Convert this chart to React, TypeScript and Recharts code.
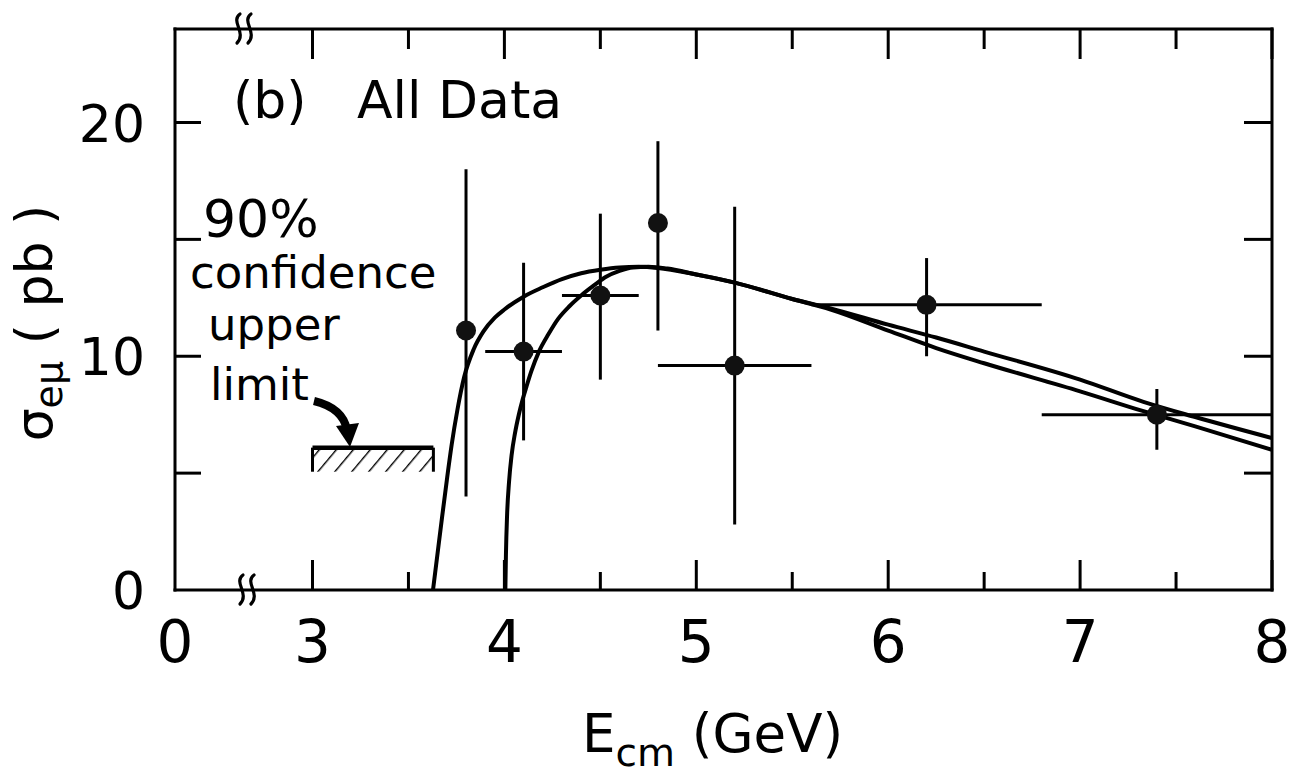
import {
  ComposedChart,
  Line,
  Scatter,
  ErrorBar,
  XAxis,
  YAxis,
  ReferenceArea,
  ReferenceLine,
} from "recharts";

const FONT = "'DejaVu Sans', Arial, sans-serif";

// the energy axis is broken between 0 and 3 GeV; "0" sits at this position
const X_ZERO = 2.2835;

// measured cross sections
const energies = [3.8, 4.1, 4.5, 4.8, 5.2, 6.2, 7.4];
const sigma = [11.1, 10.2, 12.6, 15.7, 9.6, 12.2, 7.5];
const sigmaLow = [4.0, 6.4, 9.0, 11.1, 2.8, 10.0, 6.0];
const sigmaHigh = [18.0, 14.0, 16.1, 19.2, 16.4, 14.2, 8.6];
const binLow = [3.8, 3.9, 4.3, 4.8, 4.8, 5.6, 6.8];
const binHigh = [3.8, 4.3, 4.7, 4.8, 5.6, 6.8, 8.0];

// theory curve, threshold ~3.6 GeV
const curveAE = [3.628, 3.65, 3.675, 3.7, 3.725, 3.755, 3.79, 3.84, 3.89, 3.95, 4.0, 4.1, 4.2, 4.3, 4.4, 4.5, 4.6, 4.7, 4.8, 5.0, 5.2, 5.5, 5.7, 6.0, 6.25, 6.5, 7.0, 7.33, 7.6, 8.0];
const curveAS = [0, 1.45, 3.1, 4.7, 6.2, 7.7, 9.1, 10.3, 11.05, 11.65, 12.0, 12.55, 12.95, 13.3, 13.55, 13.7, 13.8, 13.83, 13.78, 13.5, 13.15, 12.45, 12.0, 11.1, 10.35, 9.7, 8.5, 7.65, 7.0, 6.0];

// theory curve, threshold ~4.0 GeV
const curveBE = [4.005, 4.008, 4.014, 4.024, 4.038, 4.055, 4.075, 4.095, 4.115, 4.14, 4.18, 4.23, 4.28, 4.34, 4.4, 4.47, 4.53, 4.6, 4.67, 4.75, 4.85, 5.0, 5.2, 5.5, 5.7, 6.0, 6.25, 6.5, 7.0, 7.33, 7.6, 8.0];
const curveBS = [0, 1.5, 3.2, 4.6, 5.8, 6.7, 7.5, 8.15, 8.7, 9.35, 10.2, 10.95, 11.6, 12.15, 12.6, 13.05, 13.4, 13.65, 13.8, 13.83, 13.75, 13.5, 13.15, 12.45, 12.05, 11.35, 10.8, 10.2, 9.0, 8.05, 7.4, 6.5];

// 90% CL upper limit box
const limitE = [3.0, 3.63];
const limitS = [5.06, 6.09];

const xTicks = [X_ZERO, 3, 3.5, 4, 4.5, 5, 5.5, 6, 6.5, 7, 7.5, 8];
const yTicks = [0, 5, 10, 15, 20];
const yLabels = [0, 10, 20];

const points = energies.map((e, i) => ({
  e,
  s: sigma[i],
  ex: [e - binLow[i], binHigh[i] - e],
  ey: [sigma[i] - sigmaLow[i], sigmaHigh[i] - sigma[i]],
}));
const curveA = curveAE.map((e, i) => ({ e, s: curveAS[i] }));
const curveB = curveBE.map((e, i) => ({ e, s: curveBS[i] }));

const isZero = (v: number) => Math.abs(v - X_ZERO) < 1e-6;

function BottomTick(props: any) {
  const { x, y, payload } = props;
  const v = payload.value;
  const major = isZero(v) || Number.isInteger(v);
  return (
    <g>
      {!isZero(v) && (
        <line x1={x} x2={x} y1={y} y2={y - (major ? 30 : 18)} stroke="#000" strokeWidth={3} />
      )}
      {major && (
        <text x={x} y={y + 72} textAnchor="middle" fontSize={58} fontFamily={FONT} fill="#000">
          {isZero(v) ? "0" : v}
        </text>
      )}
    </g>
  );
}

function TopTick(props: any) {
  const { x, y, payload } = props;
  const v = payload.value;
  if (isZero(v)) return <g />;
  const major = Number.isInteger(v);
  return <line x1={x} x2={x} y1={y} y2={y + (major ? 30 : 20)} stroke="#000" strokeWidth={3} />;
}

function LeftTick(props: any) {
  const { x, y, payload } = props;
  const v = payload.value;
  return (
    <g>
      {v !== 0 && <line x1={x} x2={x + 26} y1={y} y2={y} stroke="#000" strokeWidth={3} />}
      {yLabels.includes(v) && (
        <text x={x - 30} y={y + 19} textAnchor="end" fontSize={52} fontFamily={FONT} fill="#000">
          {v}
        </text>
      )}
    </g>
  );
}

function RightTick(props: any) {
  const { x, y, payload } = props;
  if (payload.value === 0) return <g />;
  return <line x1={x} x2={x - 28} y1={y} y2={y} stroke="#000" strokeWidth={3} />;
}

function Dot(props: any) {
  const { cx, cy } = props;
  return <circle cx={cx} cy={cy} r={10} fill="#111" />;
}

// two squiggles marking the axis break
function BreakMark({ x, y }: { x: number; y: number }) {
  const s = (cx: number) =>
    `M ${cx + 1} ${y - 15} C ${cx - 9} ${y - 8}, ${cx + 8} ${y + 4}, ${cx - 2} ${y + 14}`;
  return (
    <g fill="none" stroke="#000" strokeWidth={3.2} strokeLinecap="round">
      <path d={s(x - 5)} />
      <path d={s(x + 6)} />
    </g>
  );
}

const axisLine = { stroke: "#000", strokeWidth: 3, strokeLinecap: "square" as const };

export default function App() {
  return (
    <div style={{ position: "relative", width: 1304, height: 783, background: "#fff" }}>
      <style>{`body{margin:0}`}</style>
      <ComposedChart width={1304} height={783} margin={{ top: 28, right: 31, left: 85, bottom: 93 }}>
        <defs>
          <pattern id="hatch" patternUnits="userSpaceOnUse" width={13} height={13} patternTransform="rotate(40)">
            <line x1={0} y1={0} x2={0} y2={13} stroke="#000" strokeWidth={2.8} />
          </pattern>
        </defs>
        <XAxis
          type="number"
          dataKey="e"
          domain={[X_ZERO, 8]}
          ticks={xTicks}
          interval={0}
          allowDataOverflow
          height={100}
          tickSize={0}
          tickMargin={0}
          axisLine={axisLine}
          tickLine={false}
          tick={(p: any) => <BottomTick {...p} />}
        />
        <XAxis
          xAxisId="top"
          orientation="top"
          type="number"
          dataKey="e"
          domain={[X_ZERO, 8]}
          ticks={xTicks}
          interval={0}
          allowDataOverflow
          height={1}
          tickSize={0}
          tickMargin={0}
          axisLine={axisLine}
          tickLine={false}
          tick={(p: any) => <TopTick {...p} />}
        />
        <YAxis
          type="number"
          domain={[0, 24]}
          ticks={yTicks}
          interval={0}
          allowDataOverflow
          width={90}
          tickSize={0}
          tickMargin={0}
          axisLine={axisLine}
          tickLine={false}
          tick={(p: any) => <LeftTick {...p} />}
        />
        <YAxis
          yAxisId="right"
          orientation="right"
          type="number"
          domain={[0, 24]}
          ticks={yTicks}
          interval={0}
          allowDataOverflow
          width={1}
          tickSize={0}
          tickMargin={0}
          axisLine={axisLine}
          tickLine={false}
          tick={(p: any) => <RightTick {...p} />}
        />

        <ReferenceArea
          x1={limitE[0]}
          x2={limitE[1]}
          y1={limitS[0]}
          y2={limitS[1]}
          fill="url(#hatch)"
          fillOpacity={1}
          stroke="none"
        />
        <ReferenceLine
          segment={[{ x: limitE[0], y: limitS[1] }, { x: limitE[1], y: limitS[1] }]}
          stroke="#000"
          strokeWidth={4.5}
        />
        <ReferenceLine
          segment={[{ x: limitE[0], y: limitS[0] }, { x: limitE[0], y: limitS[1] }]}
          stroke="#000"
          strokeWidth={3}
        />
        <ReferenceLine
          segment={[{ x: limitE[1], y: limitS[0] }, { x: limitE[1], y: limitS[1] }]}
          stroke="#000"
          strokeWidth={3}
        />

        <Line
          data={curveA}
          dataKey="s"
          type="monotone"
          stroke="#000"
          strokeWidth={4}
          dot={false}
          isAnimationActive={false}
        />
        {/* same domains as the main axes; drawn here so the frame axes are live */}
        <Line
          data={curveB}
          dataKey="s"
          xAxisId="top"
          yAxisId="right"
          type="monotone"
          stroke="#000"
          strokeWidth={4}
          dot={false}
          isAnimationActive={false}
        />
        <Scatter data={points} dataKey="s" shape={<Dot />} isAnimationActive={false}>
          <ErrorBar dataKey="ey" direction="y" width={0} stroke="#000" strokeWidth={3} />
          <ErrorBar dataKey="ex" direction="x" width={0} stroke="#000" strokeWidth={3} />
        </Scatter>
      </ComposedChart>

      <svg
        width={1304}
        height={783}
        style={{ position: "absolute", left: 0, top: 0, pointerEvents: "none" }}
        fontFamily={FONT}
      >
        <text x={233} y={118} fontSize={52}>(b)</text>
        <text x={357} y={118} fontSize={52}>All Data</text>

        <text x={203} y={237} fontSize={52}>90%</text>
        <text x={190} y={288} fontSize={45}>confidence</text>
        <text x={208} y={340} fontSize={45}>upper</text>
        <text x={210} y={400} fontSize={45}>limit</text>

        <path d="M 314 401 Q 343 408 347 430" fill="none" stroke="#000" strokeWidth={8} />
        <polygon points="336,426 359,423 350,447" fill="#000" />

        <BreakMark x={244} y={29} />
        <BreakMark x={247} y={590} />

        <text transform="translate(52,323) rotate(-90)" textAnchor="middle" fontSize={52}>
          σ
          <tspan fontSize={38} dy={10}>eμ</tspan>
          <tspan dy={-10}> ( pb )</tspan>
        </text>

        <text x={582} y={752} fontSize={53}>
          E
          <tspan fontSize={39} dy={14}>cm</tspan>
          <tspan dy={-14}> (GeV)</tspan>
        </text>
      </svg>
    </div>
  );
}
